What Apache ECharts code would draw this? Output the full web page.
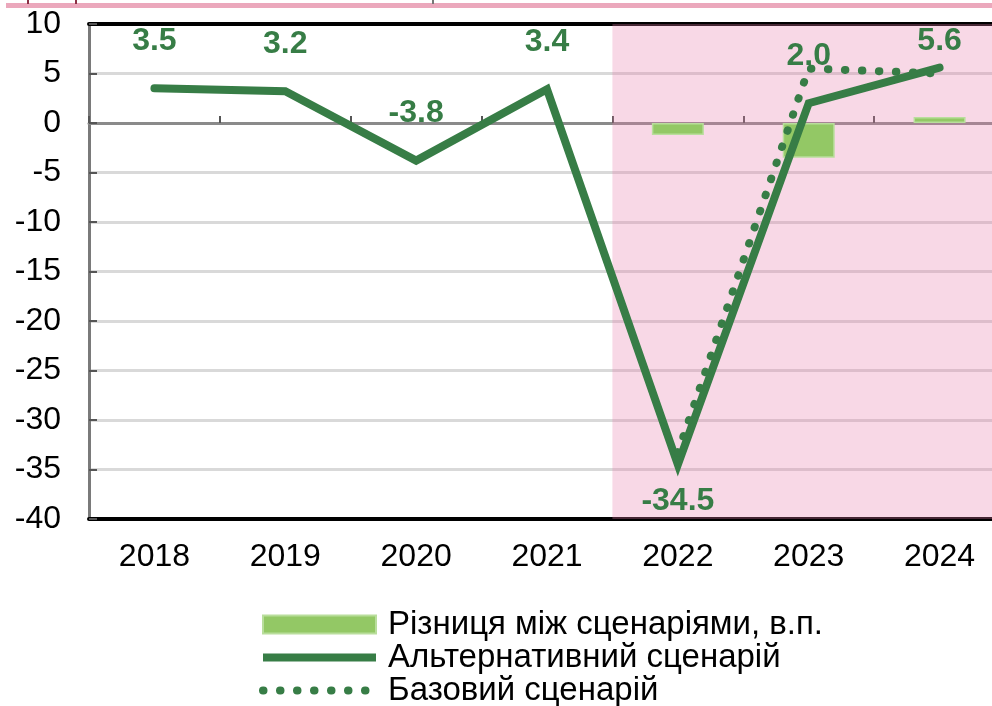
<!DOCTYPE html>
<html>
<head>
<meta charset="utf-8">
<script src="https://cdn.jsdelivr.net/npm/echarts@6/dist/echarts.min.js"></script>
<style>
  html, body { margin: 0; padding: 0; background: #fff; }
  #chart { width: 992px; height: 706px; }
</style>
</head>
<body>
<div id="chart"></div>
<script>
const years = ["2018", "2019", "2020", "2021", "2022", "2023", "2024"];
const alternative = [3.5, 3.2, -3.8, 3.4, -34.5, 2.0, 5.6];
const baseline = [null, null, null, null, -33.3, 5.5, 5.0];
const difference = [null, null, null, null, -1.2, -3.5, 0.6];
const yTicks = { min: -40, max: 10, step: 5 };
const forecastFrom = 3.5; // boundary between 2021 and 2022, in category units

const names = ["Різниця між сценаріями, в.п.", "Альтернативний сценарій", "Базовий сценарій"];

const FONT = "'Liberation Sans', Arial, sans-serif";
const GREEN = "#377d46";
const LIGHT = "#93c865";
const DOTS = [0.5, 16.5];

// label shift for each point (style only)
const labelShift = [-26, -26, -26, -26, 16, -26, -5];

const chart = echarts.init(document.getElementById("chart"), null, { renderer: "canvas" });

chart.setOption({
  animation: false,
  backgroundColor: "#fff",
  textStyle: { fontFamily: FONT },
  grid: { left: 89, top: 24, right: -13, bottom: 187, outerBoundsMode: "none", containLabel: false },
  graphic: [
    { type: "rect", shape: { x: 6, y: 3, width: 990, height: 5 }, style: { fill: "#eba8bc" } },
    { type: "rect", shape: { x: 27, y: 0, width: 2, height: 4 }, style: { fill: "#8c2f45" } },
    { type: "rect", shape: { x: 75, y: 0, width: 2, height: 4 }, style: { fill: "#8c2f45" } },
    { type: "rect", shape: { x: 432, y: 0, width: 2, height: 4 }, style: { fill: "#777" } }
  ],
  legend: {
    orient: "vertical",
    left: 259,
    top: 608,
    height: 120,
    padding: 0,
    itemWidth: 113,
    itemHeight: 18,
    itemGap: 0,
    selectedMode: false,
    textStyle: { fontSize: 33, lineHeight: 31, color: "#000", fontFamily: FONT, padding: [0, 0, 0, 7] },
    data: [
      { name: names[0], icon: "rect" },
      { name: names[1], lineStyle: { width: 8, cap: "butt" }, itemStyle: { opacity: 0 } },
      { name: names[2], lineStyle: { width: 8, cap: "round", type: DOTS }, itemStyle: { opacity: 0 } }
    ]
  },
  xAxis: [
    {
      type: "category",
      data: years,
      position: "bottom",
      axisLine: { onZero: false, lineStyle: { color: "#000", width: 4 } },
      axisTick: { show: false },
      axisLabel: { fontSize: 32, color: "#000", margin: 22, fontFamily: FONT }
    },
    {
      type: "category",
      data: years,
      position: "top",
      axisLine: { onZero: false, lineStyle: { color: "#000", width: 4 } },
      axisTick: { show: false },
      axisLabel: { show: false }
    },
    {
      type: "category",
      data: years,
      position: "bottom",
      axisLine: { onZero: true, lineStyle: { color: "#8a8a8a", width: 3 } },
      axisTick: { show: true, inside: true, length: 7, lineStyle: { color: "#555", width: 2 } },
      axisLabel: { show: false }
    },
    {
      type: "value",
      min: -0.5,
      max: years.length - 0.5,
      show: false,
      axisLine: { onZero: false }
    }
  ],
  yAxis: {
    type: "value",
    min: yTicks.min,
    max: yTicks.max,
    interval: yTicks.step,
    axisLine: { show: true, onZero: false, lineStyle: { color: "#7a7a7a", width: 3 } },
    axisTick: { show: true, inside: true, length: 8, lineStyle: { color: "#555", width: 2 } },
    axisLabel: { fontSize: 32, color: "#000", margin: 28, fontFamily: FONT },
    splitLine: { show: true, lineStyle: { color: "#d9d9d9", width: 3 } }
  },
  series: [
    {
      type: "line",
      xAxisIndex: 3,
      data: [],
      silent: true,
      markArea: {
        silent: true,
        itemStyle: { color: "rgba(232,125,172,0.3)" },
        data: [[{ xAxis: forecastFrom }, { xAxis: years.length - 0.5 }]]
      }
    },
    {
      name: names[0],
      type: "bar",
      data: difference,
      barWidth: 52,
      itemStyle: { color: LIGHT, borderColor: "#b9de9c", borderWidth: 1.5 },
      z: 3
    },
    {
      name: names[1],
      type: "line",
      data: alternative.map((v, i) => ({
        value: v,
        label: { position: labelShift[i] > 0 ? "bottom" : "top", offset: [0, labelShift[i]] }
      })),
      symbol: "circle",
      symbolSize: 0,
      showSymbol: true,
      lineStyle: { color: GREEN, width: 8, cap: "round", join: "miter" },
      itemStyle: { color: GREEN },
      label: {
        show: true,
        formatter: (p) => Number(p.value).toFixed(1),
        fontSize: 32,
        fontWeight: "bold",
        color: GREEN,
        fontFamily: FONT
      },
      z: 5
    },
    {
      name: names[2],
      type: "line",
      data: baseline,
      symbol: "none",
      lineStyle: { color: GREEN, width: 8, cap: "round", type: DOTS },
      itemStyle: { color: GREEN },
      z: 6
    }
  ]
});
</script>
</body>
</html>
